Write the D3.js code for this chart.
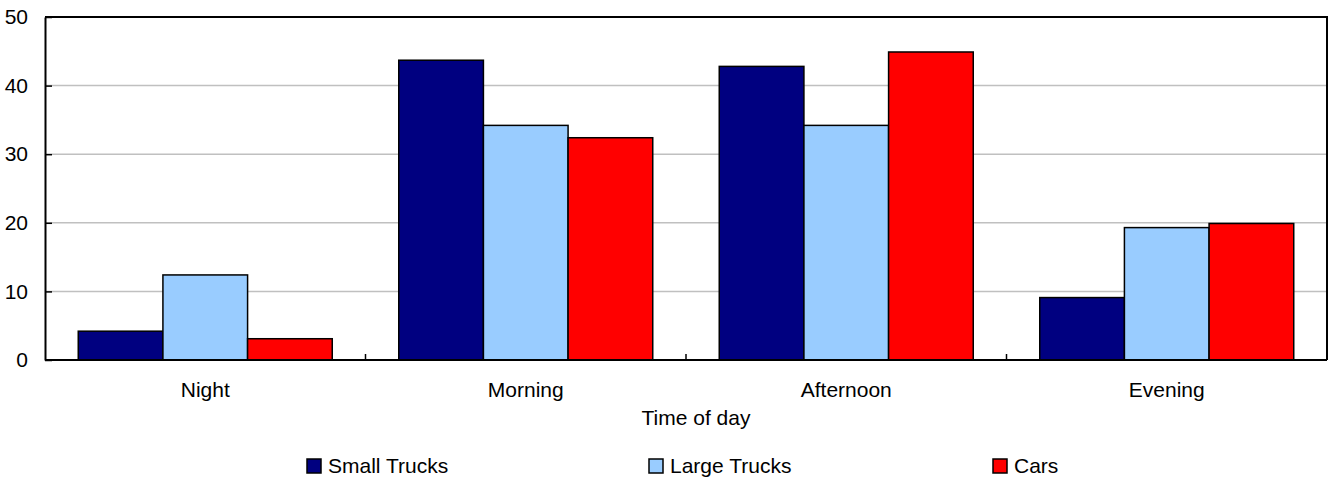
<!DOCTYPE html>
<html>
<head>
<meta charset="utf-8">
<script src="https://cdn.jsdelivr.net/npm/d3@7"></script>
<style>
  html, body { margin: 0; padding: 0; background: #fff; }
  svg { display: block; font-family: "Liberation Sans", Arial, sans-serif; }
</style>
</head>
<body>
<svg id="chart" width="1330" height="477"></svg>
<script>
// Traffic counts by time of day
const categories = ["Night", "Morning", "Afternoon", "Evening"];
const seriesNames = ["Small Trucks", "Large Trucks", "Cars"];
const smallTrucks = [4.2, 43.7, 42.8, 9.1];
const largeTrucks = [12.4, 34.2, 34.2, 19.3];
const cars = [3.1, 32.4, 44.9, 19.9];
const yTicks = [0, 10, 20, 30, 40, 50];
const colors = ["#000080", "#99ccff", "#ff0000"];

const seriesValues = [smallTrucks, largeTrucks, cars];
const rows = categories.map((c, i) => ({
  category: c,
  values: seriesNames.map((s, j) => ({ series: s, value: seriesValues[j][i], color: colors[j] }))
}));

const FONT = 21;
const svg = d3.select("#chart");
const plot = { left: 45, right: 1327, top: 17, bottom: 360 };

const pad = 0.2075;
const x0 = d3.scaleBand().domain(categories)
  .range([plot.left, plot.right])
  .paddingInner(pad).paddingOuter(pad / 2);
const x1 = d3.scaleBand().domain(seriesNames).range([0, x0.bandwidth()]);
const y = d3.scaleLinear().domain([0, 50]).range([plot.bottom, plot.top]);

// Horizontal gridlines
svg.append("g")
  .selectAll("line")
  .data(yTicks.filter(t => t > 0 && t < 50))
  .join("line")
  .attr("x1", plot.left).attr("x2", plot.right)
  .attr("y1", d => y(d)).attr("y2", d => y(d))
  .attr("stroke", "#c0c0c0").attr("stroke-width", 1.5);

// Bars
const groups = svg.append("g")
  .selectAll("g")
  .data(rows)
  .join("g")
  .attr("transform", d => `translate(${x0(d.category)},0)`);

groups.selectAll("rect")
  .data(d => d.values)
  .join("rect")
  .attr("x", d => x1(d.series))
  .attr("width", x1.bandwidth())
  .attr("y", d => y(d.value))
  .attr("height", d => y(0) - y(d.value))
  .attr("fill", d => d.color)
  .attr("stroke", "#000")
  .attr("stroke-width", 1.5);

// Frame: top and right borders
svg.append("path")
  .attr("d", `M${plot.left},${plot.top}H${plot.right}V${plot.bottom}`)
  .attr("fill", "none").attr("stroke", "#000").attr("stroke-width", 2);

// Y axis with inward ticks
const yAxis = d3.axisLeft(y).tickValues(yTicks).tickSize(-7).tickPadding(17).tickSizeOuter(0);
const gy = svg.append("g").attr("transform", `translate(${plot.left},0)`).call(yAxis);
gy.select(".domain").attr("stroke", "#000").attr("stroke-width", 2);
gy.selectAll(".tick line").attr("stroke", "#000").attr("stroke-width", 1.5);
gy.selectAll("text").attr("font-size", FONT).attr("fill", "#000")
  .attr("font-family", "Liberation Sans, Arial, sans-serif");

// X axis: category labels, tick marks at category boundaries
const step = x0.step();
const xAxis = d3.axisBottom(x0).tickSize(0).tickPadding(22);
const gx = svg.append("g").attr("transform", `translate(0,${plot.bottom})`).call(xAxis);
gx.select(".domain").remove();
gx.selectAll("text").attr("font-size", FONT).attr("fill", "#000")
  .attr("font-family", "Liberation Sans, Arial, sans-serif");

svg.append("line")
  .attr("x1", plot.left).attr("x2", plot.right)
  .attr("y1", plot.bottom).attr("y2", plot.bottom)
  .attr("stroke", "#000").attr("stroke-width", 2);

svg.append("g")
  .selectAll("line")
  .data(categories.slice(1))
  .join("line")
  .attr("x1", d => x0(d) - step * pad / 2)
  .attr("x2", d => x0(d) - step * pad / 2)
  .attr("y1", plot.bottom).attr("y2", plot.bottom - 6)
  .attr("stroke", "#000").attr("stroke-width", 1.5);

// Axis title
svg.append("text")
  .attr("x", 696)
  .attr("y", 425)
  .attr("text-anchor", "middle")
  .attr("font-size", FONT)
  .text("Time of day");

// Legend
const legendX = [307, 649, 993];
const legend = svg.append("g")
  .selectAll("g")
  .data(seriesNames)
  .join("g")
  .attr("transform", (d, i) => `translate(${legendX[i]},459)`);
legend.append("rect")
  .attr("width", 14).attr("height", 14)
  .attr("fill", (d, i) => colors[i])
  .attr("stroke", "#000").attr("stroke-width", 1.5);
legend.append("text")
  .attr("x", 21).attr("y", 14)
  .attr("font-size", FONT)
  .text(d => d);
</script>
</body>
</html>
